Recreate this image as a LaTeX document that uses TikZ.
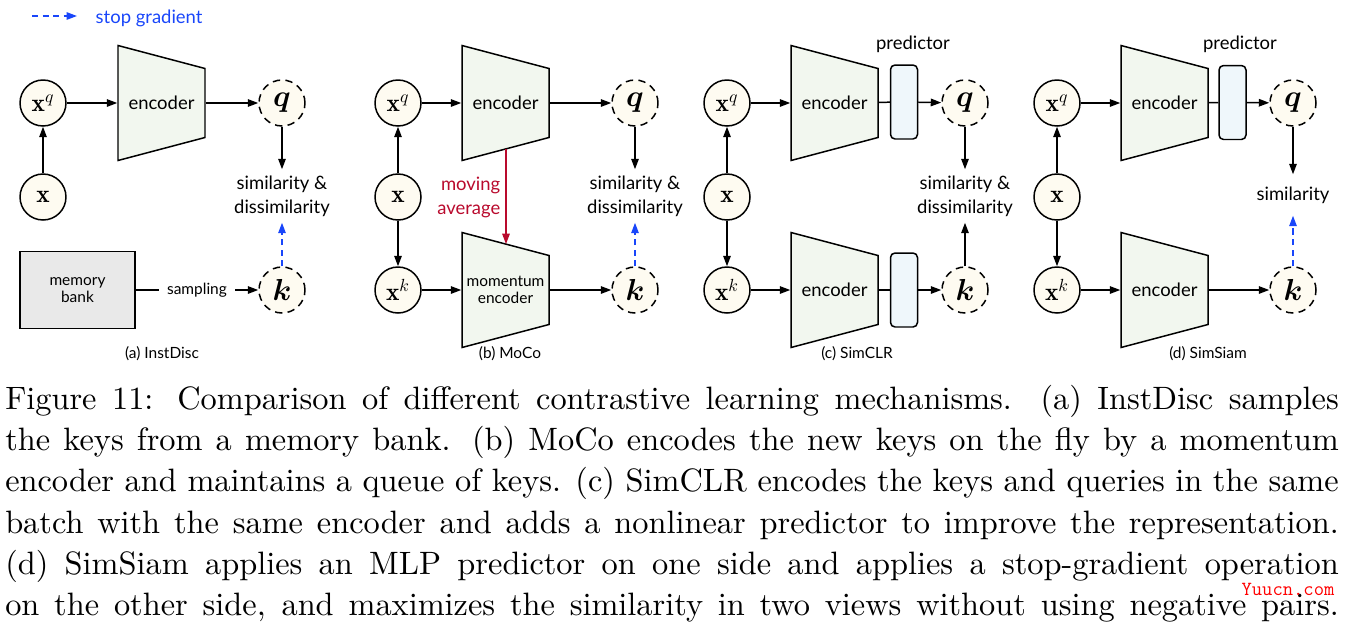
\documentclass[tikz,border=0pt]{standalone}
\usepackage{amsmath}
\usepackage{fontspec}
\newfontfamily\gill{Lato}
\usetikzlibrary{arrows.meta}
\definecolor{encfill}{RGB}{242,247,239}
\definecolor{predfill}{RGB}{239,247,251}
\definecolor{inpfill}{RGB}{254,251,241}
\definecolor{bankfill}{RGB}{233,233,233}
\definecolor{sgblue}{RGB}{25,70,250}
\definecolor{mavred}{RGB}{185,10,45}

\begin{document}
\begin{tikzpicture}[x=0.02cm,y=-0.02cm,line width=0.85pt,
  every node/.style={font=\gill\fontsize{10.5}{13.7}\selectfont},
  inp/.style={circle,draw,fill=inpfill,minimum size=0.92cm,inner sep=0pt,font=\fontsize{14.4}{17}\selectfont},
  emb/.style={inp,dash pattern=on 4.2pt off 3pt,font=\fontsize{17.28}{20}\selectfont},
  trap/.style={draw,fill=encfill,line join=miter},
  encbox/.style={minimum width=1.74cm,minimum height=2.3cm,inner sep=0pt},
  pred/.style={draw,fill=predfill,rounded corners=0.09cm,minimum width=0.54cm,minimum height=1.48cm,inner sep=0pt},
  sim/.style={align=center,minimum height=1.04cm,inner sep=1pt},
  small/.style={font=\gill\fontsize{8.8}{10}\selectfont,align=center},
  arr/.style={-{Triangle[length=2.1mm,width=1.5mm]}},
  sg/.style={arr,sgblue,dash pattern=on 3.5pt off 2.5pt}]
\useasboundingbox (0,0) rectangle (1349,643);

\coordinate (sgS) at (32,16);
\coordinate (sgE) at (77,16);
\draw[sg] (sgS) -- (sgE);
\node[anchor=west,inner sep=0pt,text=sgblue] (sgtxt) at (95,18) {stop gradient};

\node[inp] (xqA) at (43,103) {$\mathbf{x}^q$};
\node[inp] (xA) at (43,197) {$\mathbf{x}$};
\draw[trap] (118,45.5) -- (205,68.5) -- (205,137.5) -- (118,160.5) -- cycle;
\node[encbox] (encA) at (161.5,103) {encoder};
\node[emb] (qA) at (282,103) {$\boldsymbol{q}$};
\node[sim] (simA) at (282,196) {similarity \&\\dissimilarity};
\node[emb] (kA) at (282,290) {$\boldsymbol{k}$};
\node[draw,fill=bankfill,small,minimum width=2.3cm,minimum height=1.54cm] (bank) at (77.5,290) {memory\\bank};
\draw[arr] (xA) -- (xqA);
\draw[arr] (xqA) -- (encA);
\draw[arr] (encA) -- (qA);
\draw[arr] (qA) -- (simA);
\draw[sg] (kA) -- (simA);
\draw[arr] (bank) -- node[small,fill=white,inner xsep=0.17cm] (smp) {sampling} (kA);
\node[small] (capA) at (162,354) {(a) InstDisc};

\node[inp] (xqB) at (398,103) {$\mathbf{x}^q$};
\node[inp] (xB) at (398,197) {$\mathbf{x}$};
\node[inp] (xkB) at (398,290) {$\mathbf{x}^k$};
\draw[trap] (462,45.5) -- (549,68.5) -- (549,137.5) -- (462,160.5) -- cycle;
\node[encbox] (encB) at (505.5,103) {encoder};
\draw[trap] (462,232.5) -- (549,255.5) -- (549,324.5) -- (462,347.5) -- cycle;
\node[encbox,small] (momB) at (505.5,290) {momentum\\encoder};
\node[emb] (qB) at (635,103) {$\boldsymbol{q}$};
\node[sim] (simB) at (635,196) {similarity \&\\dissimilarity};
\node[emb] (kB) at (635,290) {$\boldsymbol{k}$};
\coordinate (maS) at (506,148.9);
\coordinate (maE) at (506,244.1);
\draw[arr,mavred] (maS) -- (maE);
\node[anchor=east,align=right,text=mavred,inner sep=0pt] (maL) at (501,197) {moving\\average};
\draw[arr] (xB) -- (xqB);
\draw[arr] (xB) -- (xkB);
\draw[arr] (xqB) -- (encB);
\draw[arr] (xkB) -- (momB);
\draw[arr] (encB) -- (qB);
\draw[arr] (momB) -- (kB);
\draw[arr] (qB) -- (simB);
\draw[sg] (kB) -- (simB);
\node[small] (capB) at (510,354) {(b) MoCo};

\node[inp] (xqC) at (727,103) {$\mathbf{x}^q$};
\node[inp] (xC) at (727,197) {$\mathbf{x}$};
\node[inp] (xkC) at (727,290) {$\mathbf{x}^k$};
\draw[trap] (791,45.5) -- (878,68.5) -- (878,137.5) -- (791,160.5) -- cycle;
\node[encbox] (encC) at (834.5,103) {encoder};
\draw[trap] (791,232.5) -- (878,255.5) -- (878,324.5) -- (791,347.5) -- cycle;
\node[encbox] (encCk) at (834.5,290) {encoder};
\node[pred] (prC) at (904,102) {};
\node[pred] (prCk) at (904,290) {};
\node (prCt) at (913,44) {predictor};
\node[emb] (qC) at (965,103) {$\boldsymbol{q}$};
\node[sim] (simC) at (965,196) {similarity \&\\dissimilarity};
\node[emb] (kC) at (965,290) {$\boldsymbol{k}$};
\draw[arr] (xC) -- (xqC);
\draw[arr] (xC) -- (xkC);
\draw[arr] (xqC) -- (encC);
\draw[arr] (xkC) -- (encCk);
\draw (encC) -- (prC);
\draw (encCk) -- (prCk);
\draw[arr] (prC) -- (qC);
\draw[arr] (prCk) -- (kC);
\draw[arr] (qC) -- (simC);
\draw[arr] (kC) -- (simC);
\node[small] (capC) at (857,354) {(c) SimCLR};

\node[inp] (xqD) at (1057,103) {$\mathbf{x}^q$};
\node[inp] (xD) at (1057,197) {$\mathbf{x}$};
\node[inp] (xkD) at (1057,290) {$\mathbf{x}^k$};
\draw[trap] (1121,45.5) -- (1208,68.5) -- (1208,137.5) -- (1121,160.5) -- cycle;
\node[encbox] (encD) at (1164.5,103) {encoder};
\draw[trap] (1121,232.5) -- (1208,255.5) -- (1208,324.5) -- (1121,347.5) -- cycle;
\node[encbox] (encDk) at (1164.5,290) {encoder};
\node[pred] (prD) at (1232.5,102.5) {};
\node (prDt) at (1240,44) {predictor};
\node[emb] (qD) at (1293,103) {$\boldsymbol{q}$};
\node[sim,minimum height=0.8cm] (simD) at (1293,195) {similarity};
\node[emb] (kD) at (1293,290) {$\boldsymbol{k}$};
\draw[arr] (xD) -- (xqD);
\draw[arr] (xD) -- (xkD);
\draw[arr] (xqD) -- (encD);
\draw[arr] (xkD) -- (encDk);
\draw (encD) -- (prD);
\draw[arr] (prD) -- (qD);
\draw[arr] (encDk) -- (kD);
\draw[arr] (qD) -- (simD);
\draw[sg] (kD) -- (simD);
\node[small] (capD) at (1208,354) {(d) SimSiam};

\coordinate (capO) at (4,383.5);
\node[font=\rmfamily\fontsize{10.95}{14}\selectfont,text width=15.86cm,align=justify,anchor=north west,inner sep=0pt,scale=1.682,transform shape] (caption) at (capO) {Figure 11: Comparison of different contrastive learning mechanisms. (a) InstDisc samples\linebreak the keys from a memory bank. (b) MoCo encodes the new keys on the fly by a momentum\linebreak encoder and maintains a queue of keys. (c) SimCLR encodes the keys and queries in the same\linebreak batch with the same encoder and adds a nonlinear predictor to improve the representation.\linebreak (d) SimSiam applies an MLP predictor on one side and applies a stop-gradient operation\linebreak on the other side, and maximizes the similarity in two views without using negative pairs.\linebreak};
\node[font=\ttfamily\fontsize{11.4}{12}\selectfont,text=red,inner sep=0pt] (wm) at (1288,589) {Yuucn.com};
\end{tikzpicture}
\end{document}
